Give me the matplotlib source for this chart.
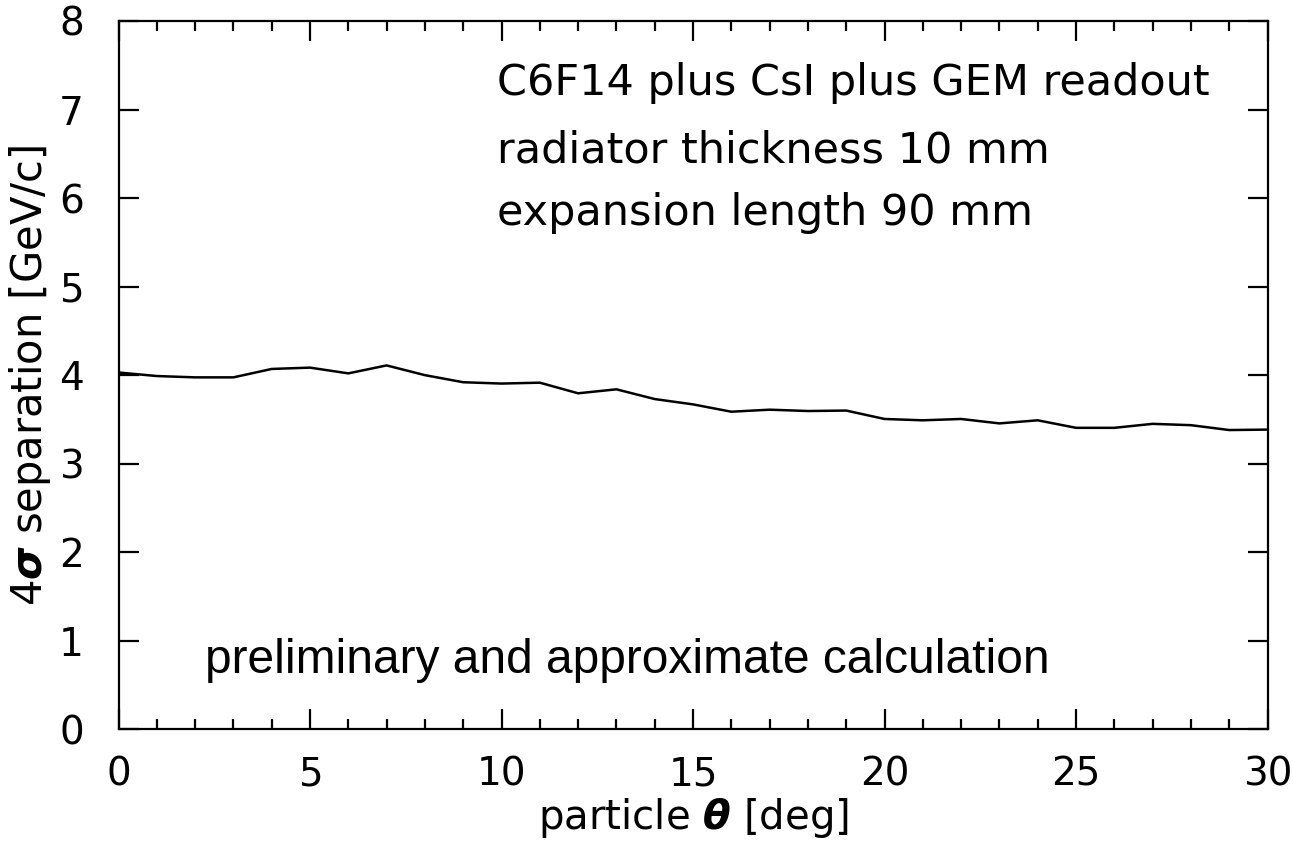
import matplotlib
matplotlib.use("Agg")
import matplotlib.pyplot as plt
from matplotlib.ticker import MultipleLocator

theta = list(range(0, 31))
separation = [4.03, 3.99, 3.975, 3.975, 4.07, 4.085, 4.02, 4.11, 4.00, 3.92, 3.905,
              3.915, 3.795, 3.84, 3.73, 3.67, 3.587, 3.61, 3.595, 3.60, 3.505,
              3.49, 3.505, 3.455, 3.49, 3.405, 3.405, 3.45, 3.435, 3.38, 3.385]
annot_lines = ["C6F14 plus CsI plus GEM readout",
               "radiator thickness 10 mm",
               "expansion length 90 mm"]
prelim = "preliminary and approximate calculation"

plt.rcParams['font.family'] = ['DejaVu Sans']
plt.rcParams['mathtext.fontset'] = 'custom'
plt.rcParams['mathtext.it'] = 'DejaVu Sans:italic:bold'
plt.rcParams['mathtext.rm'] = 'DejaVu Sans'

W, H = 1293, 846
fig = plt.figure(figsize=(W / 100, H / 100), dpi=100)
ax = fig.add_axes([118.5 / W, 1 - 729.3 / H, (1267.5 - 118.5) / W, (729.3 - 21) / H])

ax.plot(theta, separation, color='black', lw=1.8)
ax.set_xlim(0, 30)
ax.set_ylim(0, 8)
ax.xaxis.set_major_locator(MultipleLocator(5))
ax.xaxis.set_minor_locator(MultipleLocator(1))
ax.yaxis.set_major_locator(MultipleLocator(1))
for s in ax.spines.values():
    s.set_linewidth(1.6)
ax.tick_params(axis='both', which='both', direction='in', top=True, right=True, width=1.6)
ax.tick_params(axis='x', which='major', length=14.4, pad=19, labelsize=28)
ax.tick_params(axis='x', which='minor', length=7.2)
ax.tick_params(axis='y', which='major', length=14.4, pad=25, labelsize=28)
ax.tick_params(axis='y', which='minor', length=0)

ax.set_xlabel(r'particle $\theta$ [deg]', fontsize=29, labelpad=2)
ax.set_ylabel(r'4$\sigma$ separation [GeV/c]', fontsize=30, labelpad=4)

fig.canvas.draw()
renderer = fig.canvas.get_renderer()

def fit(txt, target_w):
    bb = txt.get_window_extent(renderer)
    txt.set_fontsize(txt.get_fontsize() * target_w / bb.width)

ys = [7.3, 6.54, 5.83]
objs = []
for s, yv in zip(annot_lines, ys):
    objs.append(ax.text(9.88, yv, s, fontsize=24, ha='left', va='center'))
fit(objs[0], 713)
for o in objs[1:]:
    o.set_fontsize(objs[0].get_fontsize())

pt = ax.text(2.26, 0.78, prelim, fontsize=28, ha='left', va='center', family='Liberation Sans')
fit(pt, 843)

fig.savefig('out.png', dpi=100)
